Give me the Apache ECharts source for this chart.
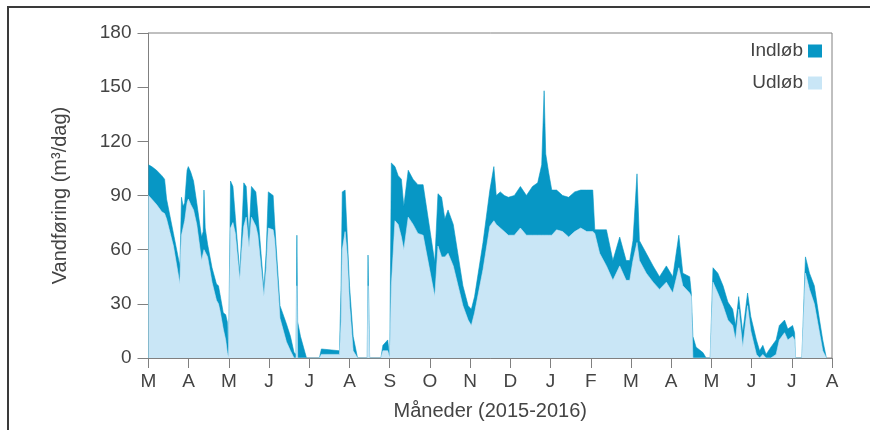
<!DOCTYPE html>
<html>
<head>
<meta charset="utf-8">
<script src="https://cdn.jsdelivr.net/npm/echarts@6/dist/echarts.min.js"></script>
<style>
  html, body { margin: 0; padding: 0; background: #ffffff; }
  #frame { position: absolute; left: 7px; top: 6px; width: 870px; height: 430px;
           border-left: 2px solid #3a3a3a; border-top: 2px solid #3a3a3a; }
  #chart { position: absolute; left: 0; top: 0; width: 870px; height: 430px; }
</style>
</head>
<body>
<div id="frame"></div>
<div id="chart"></div>
<script>
// Month tick labels, March 2015 to August 2016
const monthLabels = ['M','A','M','J','J','A','S','O','N','D','J','F','M','A','M','J','J','A'];

// Position along the x axis in months since 1 March 2015
const monthPos = [
  0.00,0.08,0.20,0.33,0.40,0.45,0.62,0.78,0.80,0.82,0.86,0.90,0.96,0.99,1.05,1.12,1.20,1.32,1.36,1.38,
  1.41,1.47,1.58,1.69,1.74,1.78,1.86,1.92,1.96,1.99,2.02,2.04,2.10,2.16,2.27,2.32,2.37,2.43,2.50,2.56,
  2.67,2.72,2.87,2.93,2.98,3.10,3.14,3.27,3.43,3.53,3.62,3.67,3.69,3.71,3.78,3.93,4.25,4.30,4.75,4.79,
  4.82,4.89,4.94,5.00,5.09,5.20,5.44,5.46,5.50,5.78,5.83,5.95,6.00,6.04,6.13,6.21,6.29,6.35,6.46,6.58,
  6.70,6.83,7.12,7.20,7.29,7.37,7.45,7.58,7.82,7.95,8.03,8.11,8.32,8.49,8.59,8.65,8.75,8.85,8.95,9.10,
  9.25,9.40,9.55,9.68,9.78,9.84,9.88,9.95,10.03,10.15,10.30,10.45,10.60,10.75,10.90,11.05,11.10,11.22,11.39,11.55,
  11.72,11.88,11.97,12.05,12.15,12.21,12.38,12.55,12.71,12.88,13.04,13.19,13.29,13.46,13.50,13.54,13.62,13.79,13.87,13.97,
  14.04,14.16,14.29,14.41,14.53,14.60,14.68,14.78,14.90,14.98,15.12,15.20,15.28,15.36,15.48,15.61,15.69,15.82,15.90,16.02,
  16.07,16.09,16.25,16.34,16.44,16.56,16.69,16.77,16.86
];

// Indløb (m³/dag)
const inflow = [
  107,106,104,101,99,88,69,51,68,89,84,86,104,106,103,98,86,67,70,93,
  72,63,50,41,40,35,25,24,20,0,0,98,95,78,47,70,97,95,67,95,
  92,80,38,60,92,90,74,29,19,12,3,2,68,20,12,0,0,5,4,40,
  92,93,69,40,12,0,0,57,0,0,7,10,0,108,106,101,99,84,104,99,
  96,96,53,91,89,77,82,74,40,29,27,34,64,93,106,90,92,90,89,90,
  95,90,95,97,107,148,113,103,93,93,90,89,92,93,93,93,71,71,71,54,
  67,54,54,65,102,65,58,51,45,51,45,68,47,45,36,12,6,3,0,0,
  50,47,40,31,27,18,34,14,36,23,10,4,7,2,6,10,18,21,16,18,
  14,0,0,56,47,40,21,10,0
];

// Udløb (m³/dag)
const outflow = [
  90,88,85,81,80,77,62,41,58,68,72,76,86,88,85,82,74,54,58,60,
  60,56,42,32,30,26,16,10,3,0,0,72,75,69,43,60,73,78,61,78,
  73,68,34,50,72,71,65,22,9,4,0,0,40,0,0,0,0,2,2,20,
  60,70,58,30,4,0,0,40,0,0,4,4,0,40,76,74,67,60,78,74,
  69,68,34,62,56,56,58,51,29,21,18,25,49,73,76,74,72,70,68,68,
  72,68,68,68,68,68,68,68,68,71,70,67,70,72,70,70,69,58,51,43,
  51,43,43,54,64,54,47,42,38,42,36,50,40,36,34,0,0,0,0,0,
  42,36,29,21,18,10,27,6,29,15,2,0,2,0,0,2,10,14,10,12,
  10,0,0,47,38,30,14,4,0
];

const seriesNames = ['Indløb', 'Udløb'];
const seriesColors = ['#0797c5', '#c9e6f6'];

const pairs = (ys) => monthPos.map((x, i) => [x, ys[i]]);

const textColor = '#444444';
const axisColor = '#808080';
const font = 'Liberation Sans, Arial, sans-serif';

const chart = echarts.init(document.getElementById('chart'), null, { renderer: 'canvas' });
chart.setOption({
  backgroundColor: 'transparent',
  animation: false,
  textStyle: { fontFamily: font },
  grid: {
    left: 148.5, right: 38, top: 33, bottom: 72,
    show: true, borderColor: axisColor, borderWidth: 1, backgroundColor: 'transparent'
  },
  legend: {
    data: seriesNames,
    orient: 'vertical',
    right: 43, top: 36,
    align: 'right',
    icon: 'rect',
    itemWidth: 14, itemHeight: 13, itemGap: 12,
    textStyle: { color: textColor, fontSize: 19, fontFamily: font, lineHeight: 20 }
  },
  xAxis: {
    type: 'value', min: 0, max: 17, interval: 1,
    name: 'Måneder (2015-2016)', nameLocation: 'middle', nameGap: 43,
    nameTextStyle: { color: textColor, fontSize: 20, fontFamily: font },
    axisLine: { show: true, lineStyle: { color: axisColor, width: 1 } },
    axisTick: { show: true, inside: false, length: 10, lineStyle: { color: axisColor } },
    axisLabel: { color: textColor, fontSize: 19, margin: 14, fontFamily: font,
                 formatter: (v) => monthLabels[Math.round(v)] },
    splitLine: { show: false }
  },
  yAxis: {
    type: 'value', min: 0, max: 180, interval: 30,
    name: 'Vandføring (m³/dag)', nameLocation: 'middle', nameGap: 78, nameRotate: 90,
    nameTextStyle: { color: textColor, fontSize: 20, fontFamily: font },
    axisLine: { show: true, lineStyle: { color: axisColor, width: 1 } },
    axisTick: { show: true, inside: false, length: 11, lineStyle: { color: axisColor } },
    axisLabel: { color: textColor, fontSize: 19, margin: 17, fontFamily: font },
    splitLine: { show: false }
  },
  series: [
    {
      name: seriesNames[0], type: 'line', data: pairs(inflow),
      showSymbol: false, symbol: 'none', smooth: false,
      itemStyle: { color: seriesColors[0] },
      lineStyle: { color: seriesColors[0], width: 0.6 },
      areaStyle: { color: seriesColors[0], opacity: 1 },
      z: 2
    },
    {
      name: seriesNames[1], type: 'line', data: pairs(outflow),
      showSymbol: false, symbol: 'none', smooth: false,
      itemStyle: { color: seriesColors[1] },
      lineStyle: { color: seriesColors[1], width: 0.6 },
      areaStyle: { color: seriesColors[1], opacity: 1 },
      z: 3
    }
  ]
});
</script>
</body>
</html>
